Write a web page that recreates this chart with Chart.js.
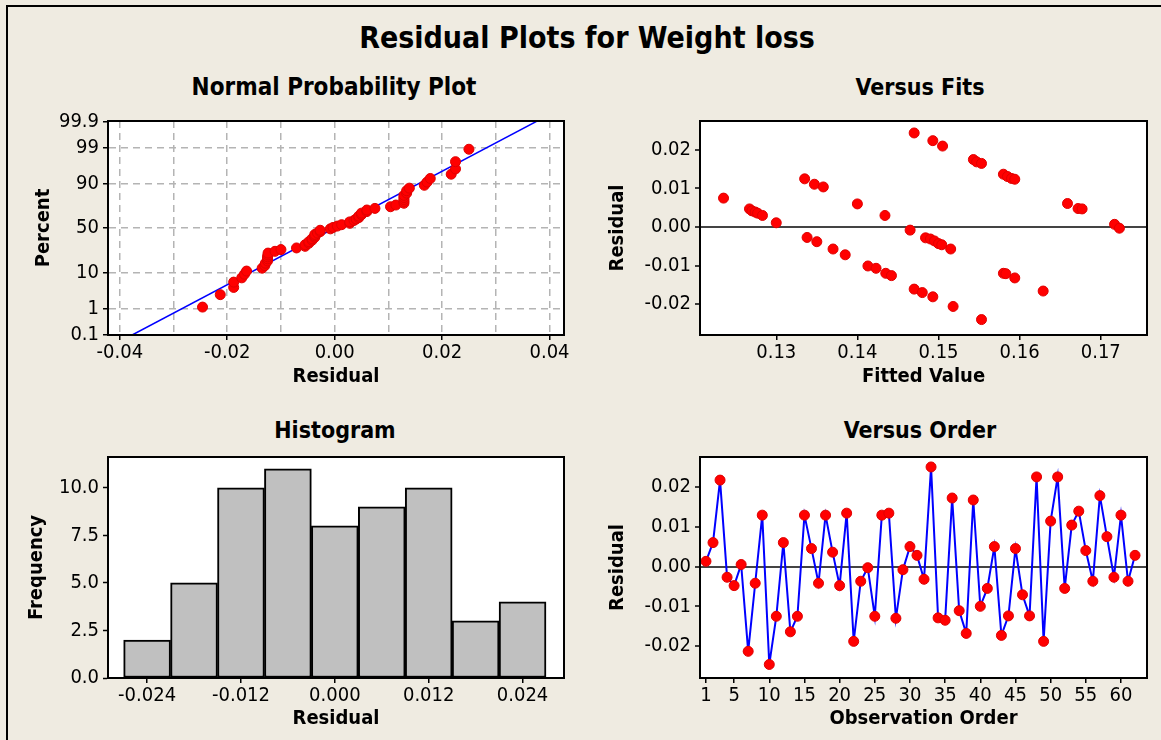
<!DOCTYPE html>
<html>
<head>
<meta charset="utf-8">
<script src="https://cdn.jsdelivr.net/npm/chart.js@4.4.0/dist/chart.umd.min.js"></script>
<style>
  html, body { margin: 0; padding: 0; }
  body { width: 1161px; height: 740px; background: #EFEBE1; position: relative; overflow: hidden;
         font-family: "DejaVu Sans Condensed", "DejaVu Sans", sans-serif; }
  .frame { position: absolute; left: 6px; top: 5px; right: 0; bottom: 0; border-left: 2px solid #000; border-top: 2px solid #000; }
  .ttl { position: absolute; transform: translate(-50%, -50%); white-space: nowrap; font-weight: bold; line-height: 1; color: #000; }
  canvas { position: absolute; }
</style>
</head>
<body>
<div class="frame"></div>
<div class="ttl" style="left:587px; top:38px; font-size:30px;">Residual Plots for Weight loss</div>
<div class="ttl" style="left:334px; top:87px; font-size:24px;">Normal Probability Plot</div>
<div class="ttl" style="left:920px; top:87px; font-size:23px;">Versus Fits</div>
<div class="ttl" style="left:335px; top:430px; font-size:23px;">Histogram</div>
<div class="ttl" style="left:920px; top:430px; font-size:23px;">Versus Order</div>

<canvas id="prob" width="551" height="287" style="left:29px; top:105px;"></canvas>
<canvas id="fits" width="554" height="287" style="left:603px; top:105px;"></canvas>
<canvas id="hist" width="558" height="293" style="left:22px; top:441px;"></canvas>
<canvas id="order" width="554" height="293" style="left:603px; top:441px;"></canvas>

<script>
// residuals in observation order
const residuals = [0.0013, 0.0060, 0.0217, -0.0027, -0.0048, 0.0005, -0.0213, -0.0042, 0.0129, -0.0246,
  -0.0125, 0.0060, -0.0164, -0.0125, 0.0129, 0.0045, -0.0042, 0.0129, 0.0036, -0.0048,
  0.0134, -0.0188, -0.0037, -0.0003, -0.0125, 0.0129, 0.0134, -0.0130, -0.0008, 0.0050,
  0.0028, -0.0032, 0.0250, -0.0129, -0.0135, 0.0172, -0.0111, -0.0168, 0.0167, -0.0100,
  -0.0055, 0.0050, -0.0173, -0.0124, 0.0045, -0.0071, -0.0124, 0.0225, -0.0188, 0.0114,
  0.0225, -0.0055, 0.0104, 0.0139, 0.0040, -0.0037, 0.0178, 0.0075, -0.0027, 0.0129,
  -0.0037, 0.0028];

// versus fits scatter
const fitValues = [0.1235, 0.1267, 0.1270, 0.1274, 0.1277, 0.1283, 0.1300, 0.1335, 0.1347, 0.1358,
  0.1338, 0.1350, 0.1370, 0.1385, 0.1400, 0.1413, 0.1423, 0.1434, 0.1435, 0.1442,
  0.1470, 0.1493, 0.1505, 0.1543, 0.1547, 0.1553, 0.1580, 0.1585, 0.1590, 0.1594,
  0.1659, 0.1672, 0.1677, 0.1717, 0.1723, 0.1465, 0.1484, 0.1490, 0.1495, 0.1500,
  0.1504, 0.1515, 0.1470, 0.1480, 0.1493, 0.1518, 0.1553, 0.1580, 0.1583, 0.1594,
  0.1629];
const fitResiduals = [0.0075, 0.0047, 0.0042, 0.0039, 0.0036, 0.0030, 0.0011, 0.0125, 0.0111, 0.0104,
  -0.0027, -0.0038, -0.0057, -0.0072, 0.0060, -0.0101, -0.0107, 0.0030, -0.0120, -0.0126,
  0.0244, 0.0224, 0.0210, 0.0175, 0.0169, 0.0165, 0.0137, 0.0131, 0.0126, 0.0124,
  0.0061, 0.0048, 0.0047, 0.0007, -0.0003, -0.0008, -0.0028, -0.0031, -0.0036, -0.0043,
  -0.0046, -0.0057, -0.0161, -0.0170, -0.0181, -0.0206, -0.0240, -0.0120, -0.0121, -0.0132,
  -0.0166];

// histogram
const binCenters = [-0.024, -0.018, -0.012, -0.006, 0.000, 0.006, 0.012, 0.018, 0.024];
const binCounts = [2, 5, 10, 11, 8, 9, 10, 3, 4];

// fitted normal line ends (percent scale)
const lineResid = [-0.0377, 0.0376];
const linePercent = [0.1, 99.9];

// tick labels
const pctTicks = [0.1, 1, 10, 50, 90, 99, 99.9];
const pctLabels = ['0.1', '1', '10', '50', '90', '99', '99.9'];
const probXTicks = [-0.04, -0.03, -0.02, -0.01, 0, 0.01, 0.02, 0.03, 0.04];
const probXLabels = ['-0.04', '', '-0.02', '', '0.00', '', '0.02', '', '0.04'];
const residTicks = [-0.02, -0.01, 0, 0.01, 0.02];
const residLabels = ['-0.02', '-0.01', '0.00', '0.01', '0.02'];
const fitTicks = [0.13, 0.14, 0.15, 0.16, 0.17];
const histXTicks = [-0.024, -0.012, 0, 0.012, 0.024];
const histXLabels = ['-0.024', '-0.012', '0.000', '0.012', '0.024'];
const histYTicks = [0, 2.5, 5, 7.5, 10];
const orderTicks = [1, 5, 10, 15, 20, 25, 30, 35, 40, 45, 50, 55, 60];

// inverse normal cdf (Acklam)
function probit(p) {
  const a = [-3.969683028665376e+01, 2.209460984245205e+02, -2.759285104469687e+02, 1.383577518672690e+02, -3.066479806614716e+01, 2.506628277459239e+00];
  const b = [-5.447609879822406e+01, 1.615858368580409e+02, -1.556989798598866e+02, 6.680131188771972e+01, -1.328068155288572e+01];
  const c = [-7.784894002430293e-03, -3.223964580411365e-01, -2.400758277161838e+00, -2.549732539343734e+00, 4.374664141464968e+00, 2.938163982698783e+00];
  const d = [7.784695709041462e-03, 3.224671290700398e-01, 2.445134137142996e+00, 3.754408661907416e+00];
  let q, r;
  if (p < 0.02425) {
    q = Math.sqrt(-2 * Math.log(p));
    return (((((c[0]*q+c[1])*q+c[2])*q+c[3])*q+c[4])*q+c[5]) / ((((d[0]*q+d[1])*q+d[2])*q+d[3])*q+1);
  }
  if (p > 1 - 0.02425) {
    q = Math.sqrt(-2 * Math.log(1 - p));
    return -(((((c[0]*q+c[1])*q+c[2])*q+c[3])*q+c[4])*q+c[5]) / ((((d[0]*q+d[1])*q+d[2])*q+d[3])*q+1);
  }
  q = p - 0.5; r = q * q;
  return (((((a[0]*r+a[1])*r+a[2])*r+a[3])*r+a[4])*r+a[5])*q / (((((b[0]*r+b[1])*r+b[2])*r+b[3])*r+b[4])*r+1);
}

const FONT = '"DejaVu Sans Condensed", "DejaVu Sans", sans-serif';
const tickFont = { family: FONT, size: 20 };
const titleFont = { family: FONT, size: 20, weight: 'bold' };
const RED = '#FF0000';
const DARKRED = '#E00000';

// white plot area + black box around it
const framePlugin = {
  id: 'frame',
  beforeDraw(chart) {
    const a = chart.chartArea, ctx = chart.ctx;
    ctx.save();
    ctx.fillStyle = '#FFFFFF';
    ctx.fillRect(a.left, a.top, a.right - a.left, a.bottom - a.top);
    ctx.restore();
  },
  afterDraw(chart) {
    const a = chart.chartArea, ctx = chart.ctx;
    ctx.save();
    ctx.strokeStyle = '#000';
    ctx.lineWidth = 2;
    ctx.strokeRect(a.left, a.top, a.right - a.left, a.bottom - a.top);
    ctx.restore();
  }
};
Chart.register(framePlugin);
Chart.defaults.color = '#000';

function setTicks(list) {
  return function (scale) { scale.ticks = list.map(v => ({ value: v })); };
}

function xAxis(min, max, ticks, labels, title, height, gridColor) {
  return {
    type: 'linear', min: min, max: max, offset: false,
    afterBuildTicks: setTicks(ticks),
    afterFit: s => { s.height = height; },
    ticks: { font: tickFont, padding: 1, autoSkip: false, maxRotation: 0,
             callback: (v, i) => labels ? labels[i] : String(v) },
    grid: { offset: false, drawOnChartArea: !!gridColor, color: gridColor || '#000', lineWidth: 1.5,
            tickLength: 5, tickColor: '#000', tickWidth: 1.5 },
    border: { color: '#000', width: 2, dash: gridColor ? [7, 5] : [] },
    title: { display: true, text: title, font: titleFont, padding: { top: 0, bottom: 3 } }
  };
}

function yAxis(min, max, ticks, labels, title, width) {
  return {
    type: 'linear', min: min, max: max,
    afterBuildTicks: setTicks(ticks),
    afterFit: s => { s.width = width; },
    ticks: { font: tickFont, padding: 4, autoSkip: false, callback: (v, i) => labels[i] },
    grid: { drawOnChartArea: false, tickLength: 5, tickColor: '#000', tickWidth: 1.5 },
    border: { color: '#000', width: 2 },
    title: { display: true, text: title, font: titleFont, padding: { top: 3, bottom: 0 } }
  };
}

const common = {
  responsive: false,
  animation: false,
  plugins: { legend: { display: false }, tooltip: { enabled: false } }
};

// ---- Normal probability plot ----
const sorted = residuals.slice().sort((a, b) => a - b);
const n = sorted.length;
const probPoints = sorted.map((r, i) => ({ x: r, y: probit((i + 1 - 0.3) / (n + 0.4)) }));
const probLine = lineResid.map((r, i) => ({ x: r, y: probit(linePercent[i] / 100) }));
const pctZ = pctTicks.map(p => probit(p / 100));

const probY = yAxis(pctZ[0], 3.1, pctZ, pctLabels, 'Percent', 79);
probY.grid = { drawOnChartArea: true, tickLength: 5, tickWidth: 1.5, lineWidth: 1.5,
  color: ctx => (ctx.index > 0 && ctx.index < pctZ.length - 1) ? '#B4B4B4' : 'rgba(0,0,0,0)',
  tickColor: '#000' };
probY.border = { color: '#000', width: 2, dash: [7, 5] };

const probX = xAxis(-0.0422, 0.0427, probXTicks, probXLabels, 'Residual', 57, '#B4B4B4');
probX.grid.tickColor = ctx => (ctx.index % 2 === 0 ? '#000' : 'rgba(0,0,0,0)');

new Chart('prob', {
  type: 'scatter',
  data: { datasets: [
    { data: probPoints, pointRadius: 5, pointBackgroundColor: RED, pointBorderColor: DARKRED, pointBorderWidth: 1, order: 1 },
    { data: probLine, showLine: true, borderColor: '#0000FF', borderWidth: 1.5, pointRadius: 0, order: 2 }
  ] },
  options: Object.assign({}, common, {
    layout: { padding: { top: 15, right: 16 } },
    scales: { x: probX, y: probY }
  })
});

// ---- Versus fits ----
const zeroLine = ctx => (ctx.tick && ctx.tick.value === 0) ? '#444' : 'rgba(0,0,0,0)';
const fitsY = yAxis(-0.028, 0.0275, residTicks, residLabels, 'Residual', 97);
fitsY.grid = { drawOnChartArea: true, color: zeroLine, lineWidth: 2, tickLength: 5, tickColor: '#000', tickWidth: 1.5 };

new Chart('fits', {
  type: 'scatter',
  data: { datasets: [{
    data: fitValues.map((f, i) => ({ x: f, y: fitResiduals[i] })),
    pointRadius: 5, pointBackgroundColor: RED, pointBorderColor: DARKRED, pointBorderWidth: 1
  }] },
  options: Object.assign({}, common, {
    layout: { padding: { top: 15, right: 10 } },
    scales: {
      x: xAxis(0.1206, 0.1757, fitTicks, null, 'Fitted Value', 57),
      y: fitsY
    }
  })
});

// ---- Histogram ----
new Chart('hist', {
  type: 'bar',
  data: { datasets: [{
    data: binCenters.map((c, i) => ({ x: c, y: binCounts[i] })),
    backgroundColor: '#C0C0C0', borderColor: '#000', borderWidth: 2, borderSkipped: false,
    barPercentage: 1, categoryPercentage: 1
  }] },
  options: Object.assign({}, common, {
    layout: { padding: { top: 15, right: 16 } },
    scales: {
      x: xAxis(-0.0290, 0.0293, histXTicks, histXLabels, 'Residual', 56),
      y: yAxis(0, 11.62, histYTicks, histYTicks.map(v => v.toFixed(1)), 'Frequency', 86)
    }
  })
});

// ---- Versus order ----
const orderY = yAxis(-0.028, 0.0275, residTicks, residLabels, 'Residual', 97);
orderY.grid = { drawOnChartArea: true, color: zeroLine, lineWidth: 2, tickLength: 5, tickColor: '#000', tickWidth: 1.5 };

new Chart('order', {
  type: 'line',
  data: { datasets: [{
    data: residuals.map((r, i) => ({ x: i + 1, y: r })),
    borderColor: '#0000FF', borderWidth: 2, tension: 0,
    pointRadius: 5, pointBackgroundColor: RED, pointBorderColor: DARKRED, pointBorderWidth: 1
  }] },
  options: Object.assign({}, common, {
    layout: { padding: { top: 15, right: 10 } },
    scales: {
      x: xAxis(0.15, 63.7, orderTicks, null, 'Observation Order', 56),
      y: orderY
    }
  })
});
</script>
</body>
</html>
